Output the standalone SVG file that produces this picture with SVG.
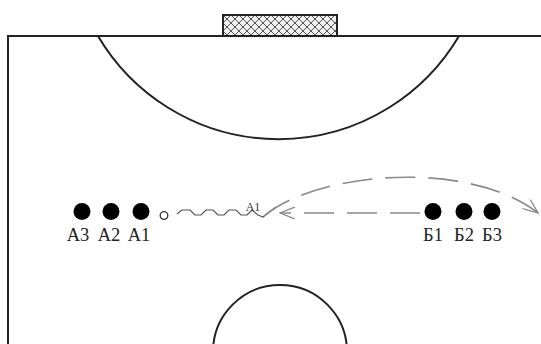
<svg xmlns="http://www.w3.org/2000/svg" width="541" height="344" viewBox="0 0 541 344">
<defs>
<pattern id="hatch" width="8" height="8" patternUnits="userSpaceOnUse" x="223" y="15">
<rect width="8" height="8" fill="#eeeeee"/>
<path d="M0,0 L8,8 M8,0 L0,8" stroke="#555" stroke-width="1"/>
</pattern>
<marker id="vee" viewBox="0 0 16 12" refX="15" refY="6" markerWidth="16" markerHeight="12" markerUnits="userSpaceOnUse" orient="auto">
<path d="M0,0 L15,6 L0,12" fill="none" stroke="#888" stroke-width="1.3"/>
</marker>
<style>
.line{fill:none;stroke:#222;stroke-width:2}
.player{fill:#000}
.lbl{font-family:"Liberation Serif","Times New Roman",serif;font-size:18.5px;fill:#222}
.dash{fill:none;stroke:#8a8a8a;stroke-width:1.6;stroke-dasharray:30 13}
</style>
</defs>
<g id="field">
<path class="line" d="M8,344 L8,36 L541,36"/>
<path class="line" d="M98,36 A209.5,209.5 0 0 0 459,36"/>
<circle class="line" cx="280" cy="352" r="67"/>
<rect x="223" y="15" width="114" height="21" fill="url(#hatch)" stroke="#222" stroke-width="2"/>
</g>
<g id="teamA">
<g id="A3"><circle class="player" cx="82" cy="211.5" r="8.5"/><text class="lbl" x="78" y="241" text-anchor="middle">А3</text></g>
<g id="A2"><circle class="player" cx="111" cy="211.5" r="8.5"/><text class="lbl" x="109" y="241" text-anchor="middle">А2</text></g>
<g id="A1"><circle class="player" cx="141" cy="211.5" r="8.5"/><text class="lbl" x="139" y="241" text-anchor="middle">А1</text></g>
</g>
<g id="ball"><circle cx="164" cy="215.5" r="3.8" fill="#fff" stroke="#333" stroke-width="1.3"/></g>
<g id="teamB">
<g id="B1"><circle class="player" cx="433" cy="211.5" r="8.5"/><text class="lbl" x="433" y="241" text-anchor="middle">Б1</text></g>
<g id="B2"><circle class="player" cx="464" cy="211.5" r="8.5"/><text class="lbl" x="464" y="241" text-anchor="middle">Б2</text></g>
<g id="B3"><circle class="player" cx="492" cy="211.5" r="8.5"/><text class="lbl" x="492" y="241" text-anchor="middle">Б3</text></g>
</g>
<g id="connectors">
<path d="M177,214 L182,210 L190,210 L195,215 L201,215 L206,210 L213,210 L218,215 L224,215 L229,210 L236,210 L241,215 L247,215 L252,210 L258,215 L263,217 L276,207" fill="none" stroke="#555" stroke-width="1.2"/>
<text x="253" y="211" text-anchor="middle" font-family="Liberation Serif,serif" font-size="12" fill="#333">А1</text>
<path class="dash" d="M420,213 L280,213" marker-end="url(#vee)"/>
<path class="dash" d="M264,216 C320,170 470,160 538,213" marker-end="url(#vee)"/>
</g>
</svg>
